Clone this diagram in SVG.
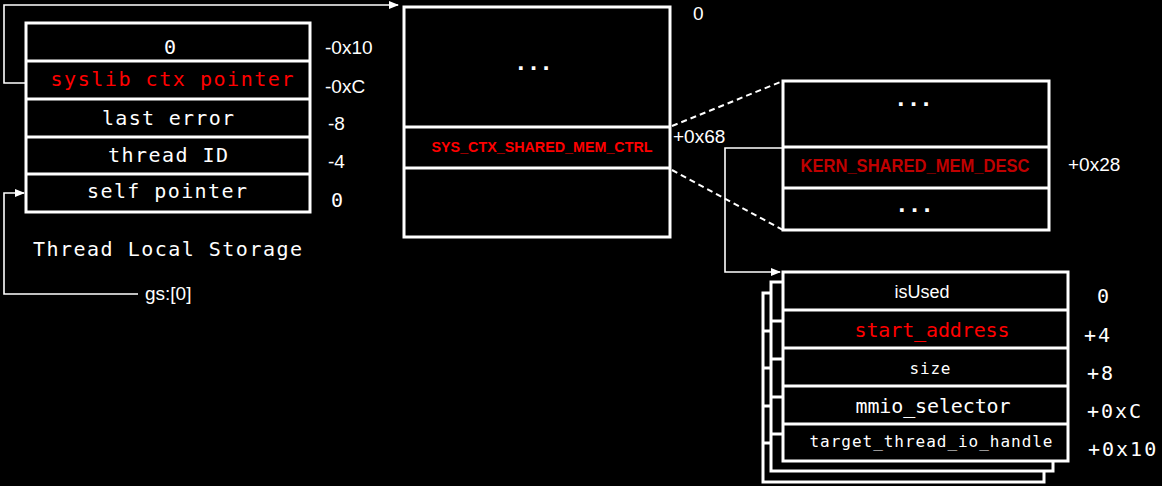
<svg xmlns="http://www.w3.org/2000/svg" width="1162" height="486" viewBox="0 0 1162 486">
<style>
.bx{fill:#000;stroke:#fff;stroke-width:3}
.dv{stroke:#fff;stroke-width:3}
.mono{font-family:"DejaVu Sans Mono",monospace;font-size:20px;fill:#fff}
.sans{font-family:"Liberation Sans",Arial,sans-serif;font-size:19px;fill:#fff}
.red{fill:#ff0000}
.dred{fill:#c00000}
.bold{font-weight:bold}
.ln{fill:none;stroke:#fff;stroke-width:1.6}
.dash{fill:none;stroke:#fff;stroke-width:2;stroke-dasharray:6 4}
.dots{font-family:"DejaVu Sans",sans-serif;font-size:20px;font-weight:bold;fill:#fff}
</style>
<defs>
<marker id="ah" markerWidth="10" markerHeight="8" refX="9" refY="4" orient="auto" markerUnits="userSpaceOnUse">
<path d="M0,0 L10,4 L0,8 Z" fill="#fff"/>
</marker>
</defs>
<rect width="1162" height="486" fill="#000"/>

<g id="connectors">
<polyline class="ln" points="25,83 4,83 4,5 398,5" marker-end="url(#ah)"/>
<polyline class="ln" points="138,294 4,294 4,193 24,193" marker-end="url(#ah)"/>
<line class="dash" x1="672" y1="126" x2="783" y2="81"/>
<line class="dash" x1="672" y1="170" x2="783" y2="230"/>
<polyline class="ln" points="783,148 725,148 725,272 780,272" marker-end="url(#ah)"/>
</g>

<g id="tls">
<rect class="bx" x="26" y="23" width="284" height="189"/>
<line class="dv" x1="26" y1="61" x2="310" y2="61"/>
<line class="dv" x1="26" y1="99" x2="310" y2="99"/>
<line class="dv" x1="26" y1="137" x2="310" y2="137"/>
<line class="dv" x1="26" y1="174" x2="310" y2="174"/>
<text class="mono" x="170" y="54" text-anchor="middle">0</text>
<text class="mono red" x="172" y="86" text-anchor="middle" textLength="243" lengthAdjust="spacing">syslib ctx pointer</text>
<text class="mono" x="168" y="125" text-anchor="middle" textLength="132" lengthAdjust="spacing">last error</text>
<text class="mono" x="168" y="162" text-anchor="middle" textLength="120" lengthAdjust="spacing">thread ID</text>
<text class="mono" x="167" y="198" text-anchor="middle" textLength="160" lengthAdjust="spacing">self pointer</text>
<text class="sans" x="325" y="54">-0x10</text>
<text class="sans" x="325" y="93">-0xC</text>
<text class="sans" x="328" y="130">-8</text>
<text class="sans" x="328" y="168">-4</text>
<text class="mono" x="331" y="207">0</text>
<text class="mono" x="33" y="256" textLength="269" lengthAdjust="spacing">Thread Local Storage</text>
<text class="sans" x="145" y="300">gs:[0]</text>
</g>

<g id="sysctx">
<rect class="bx" x="404" y="7" width="266" height="230"/>
<line class="dv" x1="404" y1="127" x2="670" y2="127"/>
<line class="dv" x1="404" y1="168" x2="670" y2="168"/>
<text class="dots" x="536" y="70" text-anchor="middle" letter-spacing="5">...</text>
<text class="sans red bold" x="542" y="152" text-anchor="middle" textLength="221" lengthAdjust="spacingAndGlyphs" style="font-size:15px">SYS_CTX_SHARED_MEM_CTRL</text>
<text class="sans" x="693" y="20">0</text>
<text class="sans" x="673" y="143">+0x68</text>
</g>

<g id="kern">
<rect class="bx" x="783" y="81" width="266" height="149"/>
<line class="dv" x1="783" y1="147" x2="1049" y2="147"/>
<line class="dv" x1="783" y1="188" x2="1049" y2="188"/>
<text class="dots" x="916" y="106" text-anchor="middle" letter-spacing="5">...</text>
<text class="sans dred bold" x="915" y="172" text-anchor="middle" textLength="229" lengthAdjust="spacingAndGlyphs">KERN_SHARED_MEM_DESC</text>
<text class="dots" x="917" y="212" text-anchor="middle" letter-spacing="5">...</text>
<text class="sans" x="1068" y="171">+0x28</text>
</g>

<g id="desc-back2">
<rect class="bx" x="763" y="293" width="281" height="189"/>
<line class="dv" x1="763" y1="331" x2="1044" y2="331"/>
<line class="dv" x1="763" y1="368" x2="1044" y2="368"/>
<line class="dv" x1="763" y1="406" x2="1044" y2="406"/>
<line class="dv" x1="763" y1="443" x2="1044" y2="443"/>
</g>
<g id="desc-back1">
<rect class="bx" x="771" y="282" width="282" height="189"/>
<line class="dv" x1="771" y1="321" x2="1053" y2="321"/>
<line class="dv" x1="771" y1="359" x2="1053" y2="359"/>
<line class="dv" x1="771" y1="397" x2="1053" y2="397"/>
<line class="dv" x1="771" y1="434" x2="1053" y2="434"/>
</g>
<g id="desc">
<rect class="bx" x="783" y="272" width="285" height="189"/>
<line class="dv" x1="783" y1="310" x2="1068" y2="310"/>
<line class="dv" x1="783" y1="348" x2="1068" y2="348"/>
<line class="dv" x1="783" y1="386" x2="1068" y2="386"/>
<line class="dv" x1="783" y1="424" x2="1068" y2="424"/>
<text class="sans" x="922" y="298" text-anchor="middle" style="font-size:18px">isUsed</text>
<text class="mono red" x="932" y="337" text-anchor="middle" textLength="155" lengthAdjust="spacing">start_address</text>
<text class="mono" x="930" y="374" text-anchor="middle" textLength="41" lengthAdjust="spacing" style="font-size:16px">size</text>
<text class="mono" x="933" y="413" text-anchor="middle" textLength="155" lengthAdjust="spacing">mmio_selector</text>
<text class="mono" x="931" y="447" text-anchor="middle" textLength="243" lengthAdjust="spacing" style="font-size:16px">target_thread_io_handle</text>
<text class="mono" x="1097" y="303">0</text>
<text class="mono" x="1084" y="342" letter-spacing="2">+4</text>
<text class="mono" x="1087" y="380" letter-spacing="2">+8</text>
<text class="mono" x="1087" y="418" letter-spacing="2">+0xC</text>
<text class="mono" x="1088" y="456" letter-spacing="2">+0x10</text>
</g>
</svg>
